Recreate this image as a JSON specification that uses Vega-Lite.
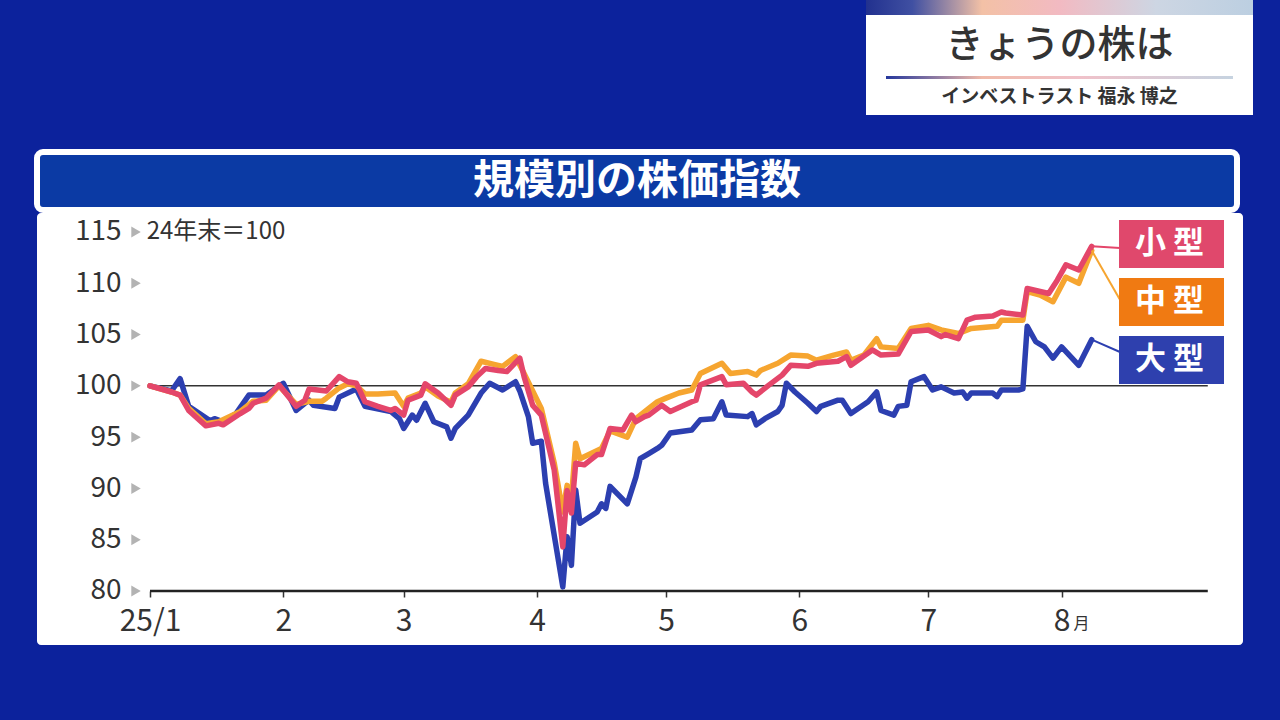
{
  "$schema": "https://vega.github.io/schema/vega-lite/v6.json",
  "background": "#0c229c",
  "padding": {"left": 34, "top": 0, "right": 30, "bottom": 75},
  "config": {"font": "Noto Sans CJK JP", "view": {"stroke": null}},
  "datasets": {
    "lines": [
      {"date":"2025-01-01","series":"小型","value":100.0},{"date":"2025-01-06","series":"小型","value":99.4},{"date":"2025-01-08","series":"小型","value":99.1},{"date":"2025-01-10","series":"小型","value":97.6},{"date":"2025-01-14","series":"小型","value":96.1},{"date":"2025-01-17","series":"小型","value":96.35},{"date":"2025-01-18","series":"小型","value":96.2},{"date":"2025-01-22","series":"小型","value":97.3},{"date":"2025-01-24","series":"小型","value":97.8},{"date":"2025-01-25","series":"小型","value":98.3},{"date":"2025-01-28","series":"小型","value":98.8},{"date":"2025-01-31","series":"小型","value":100.1},
      {"date":"2025-02-04","series":"小型","value":98.0},{"date":"2025-02-06","series":"小型","value":98.6},{"date":"2025-02-07","series":"小型","value":99.7},{"date":"2025-02-11","series":"小型","value":99.5},{"date":"2025-02-14","series":"小型","value":100.9},{"date":"2025-02-16","series":"小型","value":100.4},{"date":"2025-02-18","series":"小型","value":100.25},{"date":"2025-02-20","series":"小型","value":98.45},{"date":"2025-02-23","series":"小型","value":98.0},{"date":"2025-02-26","series":"小型","value":97.6},{"date":"2025-02-27","series":"小型","value":97.8},
      {"date":"2025-03-01","series":"小型","value":97.15},{"date":"2025-03-02","series":"小型","value":98.6},{"date":"2025-03-05","series":"小型","value":99.1},{"date":"2025-03-06","series":"小型","value":100.2},{"date":"2025-03-08","series":"小型","value":99.6},{"date":"2025-03-09","series":"小型","value":99.3},{"date":"2025-03-12","series":"小型","value":98.1},{"date":"2025-03-13","series":"小型","value":99.1},{"date":"2025-03-16","series":"小型","value":99.9},{"date":"2025-03-18","series":"小型","value":100.9},{"date":"2025-03-20","series":"小型","value":101.7},{"date":"2025-03-23","series":"小型","value":101.5},{"date":"2025-03-25","series":"小型","value":101.4},{"date":"2025-03-28","series":"小型","value":102.7},{"date":"2025-03-29","series":"小型","value":100.9},{"date":"2025-03-31","series":"小型","value":98.1},
      {"date":"2025-04-02","series":"小型","value":97.15},{"date":"2025-04-05","series":"小型","value":91.8},{"date":"2025-04-07","series":"小型","value":84.3},{"date":"2025-04-08","series":"小型","value":89.8},{"date":"2025-04-09","series":"小型","value":87.6},{"date":"2025-04-10","series":"小型","value":92.45},{"date":"2025-04-12","series":"小型","value":92.3},{"date":"2025-04-15","series":"小型","value":93.3},{"date":"2025-04-16","series":"小型","value":93.3},{"date":"2025-04-18","series":"小型","value":95.85},{"date":"2025-04-21","series":"小型","value":95.7},{"date":"2025-04-23","series":"小型","value":97.15},{"date":"2025-04-24","series":"小型","value":96.5},{"date":"2025-04-26","series":"小型","value":97.0},{"date":"2025-04-27","series":"小型","value":97.15},{"date":"2025-04-30","series":"小型","value":98.1},
      {"date":"2025-05-02","series":"小型","value":97.5},{"date":"2025-05-07","series":"小型","value":98.45},{"date":"2025-05-08","series":"小型","value":98.6},{"date":"2025-05-09","series":"小型","value":100.1},{"date":"2025-05-14","series":"小型","value":100.9},{"date":"2025-05-15","series":"小型","value":100.1},{"date":"2025-05-19","series":"小型","value":100.25},{"date":"2025-05-21","series":"小型","value":99.4},{"date":"2025-05-22","series":"小型","value":99.1},{"date":"2025-05-25","series":"小型","value":100.1},{"date":"2025-05-28","series":"小型","value":101.05},{"date":"2025-05-30","series":"小型","value":102.0},
      {"date":"2025-06-03","series":"小型","value":101.9},{"date":"2025-06-05","series":"小型","value":102.2},{"date":"2025-06-10","series":"小型","value":102.4},{"date":"2025-06-12","series":"小型","value":102.85},{"date":"2025-06-13","series":"小型","value":102.0},{"date":"2025-06-18","series":"小型","value":103.5},{"date":"2025-06-20","series":"小型","value":103.0},{"date":"2025-06-24","series":"小型","value":103.1},{"date":"2025-06-27","series":"小型","value":105.3},
      {"date":"2025-07-01","series":"小型","value":105.45},{"date":"2025-07-04","series":"小型","value":104.8},{"date":"2025-07-05","series":"小型","value":105.0},{"date":"2025-07-08","series":"小型","value":104.6},{"date":"2025-07-10","series":"小型","value":106.4},{"date":"2025-07-12","series":"小型","value":106.7},{"date":"2025-07-16","series":"小型","value":106.8},{"date":"2025-07-18","series":"小型","value":107.2},{"date":"2025-07-19","series":"小型","value":107.1},{"date":"2025-07-23","series":"小型","value":106.9},{"date":"2025-07-24","series":"小型","value":109.5},{"date":"2025-07-26","series":"小型","value":109.3},{"date":"2025-07-29","series":"小型","value":109.0},{"date":"2025-07-31","series":"小型","value":110.3},
      {"date":"2025-08-02","series":"小型","value":111.8},{"date":"2025-08-05","series":"小型","value":111.3},{"date":"2025-08-08","series":"小型","value":113.6},

      {"date":"2025-01-01","series":"中型","value":100.0},{"date":"2025-01-06","series":"中型","value":99.4},{"date":"2025-01-08","series":"中型","value":99.1},{"date":"2025-01-10","series":"中型","value":97.8},{"date":"2025-01-14","series":"中型","value":96.3},{"date":"2025-01-17","series":"中型","value":96.5},{"date":"2025-01-22","series":"中型","value":97.5},{"date":"2025-01-25","series":"中型","value":98.5},{"date":"2025-01-28","series":"中型","value":98.6},{"date":"2025-01-31","series":"中型","value":100.0},
      {"date":"2025-02-04","series":"中型","value":98.2},{"date":"2025-02-06","series":"中型","value":98.4},{"date":"2025-02-07","series":"中型","value":98.5},{"date":"2025-02-10","series":"中型","value":98.5},{"date":"2025-02-11","series":"中型","value":98.8},{"date":"2025-02-14","series":"中型","value":99.8},{"date":"2025-02-16","series":"中型","value":100.2},{"date":"2025-02-18","series":"中型","value":100.0},{"date":"2025-02-20","series":"中型","value":99.2},{"date":"2025-02-23","series":"中型","value":99.2},{"date":"2025-02-27","series":"中型","value":99.3},
      {"date":"2025-03-01","series":"中型","value":98.0},{"date":"2025-03-02","series":"中型","value":98.8},{"date":"2025-03-05","series":"中型","value":99.3},{"date":"2025-03-06","series":"中型","value":99.9},{"date":"2025-03-09","series":"中型","value":99.0},{"date":"2025-03-12","series":"中型","value":98.4},{"date":"2025-03-13","series":"中型","value":99.3},{"date":"2025-03-16","series":"中型","value":100.2},{"date":"2025-03-19","series":"中型","value":102.4},{"date":"2025-03-22","series":"中型","value":102.1},{"date":"2025-03-24","series":"中型","value":101.9},{"date":"2025-03-27","series":"中型","value":102.85},{"date":"2025-03-29","series":"中型","value":101.2},
      {"date":"2025-04-02","series":"中型","value":97.8},{"date":"2025-04-05","series":"中型","value":92.5},{"date":"2025-04-07","series":"中型","value":87.7},{"date":"2025-04-08","series":"中型","value":90.3},{"date":"2025-04-09","series":"中型","value":89.0},{"date":"2025-04-10","series":"中型","value":94.4},{"date":"2025-04-11","series":"中型","value":92.9},{"date":"2025-04-16","series":"中型","value":93.9},{"date":"2025-04-18","series":"中型","value":95.6},{"date":"2025-04-22","series":"中型","value":95.0},{"date":"2025-04-24","series":"中型","value":96.8},{"date":"2025-04-27","series":"中型","value":97.8},{"date":"2025-04-29","series":"中型","value":98.45},
      {"date":"2025-05-01","series":"中型","value":98.8},{"date":"2025-05-04","series":"中型","value":99.3},{"date":"2025-05-07","series":"中型","value":99.6},{"date":"2025-05-09","series":"中型","value":101.2},{"date":"2025-05-14","series":"中型","value":102.2},{"date":"2025-05-16","series":"中型","value":101.2},{"date":"2025-05-20","series":"中型","value":101.4},{"date":"2025-05-22","series":"中型","value":101.05},{"date":"2025-05-23","series":"中型","value":101.5},{"date":"2025-05-27","series":"中型","value":102.2},{"date":"2025-05-30","series":"中型","value":103.0},
      {"date":"2025-06-03","series":"中型","value":102.9},{"date":"2025-06-05","series":"中型","value":102.5},{"date":"2025-06-09","series":"中型","value":103.0},{"date":"2025-06-12","series":"中型","value":103.3},{"date":"2025-06-13","series":"中型","value":102.5},{"date":"2025-06-16","series":"中型","value":103.0},{"date":"2025-06-19","series":"中型","value":104.6},{"date":"2025-06-20","series":"中型","value":103.8},{"date":"2025-06-24","series":"中型","value":103.65},{"date":"2025-06-27","series":"中型","value":105.6},
      {"date":"2025-07-01","series":"中型","value":105.9},{"date":"2025-07-04","series":"中型","value":105.45},{"date":"2025-07-08","series":"中型","value":105.1},{"date":"2025-07-11","series":"中型","value":105.6},{"date":"2025-07-17","series":"中型","value":105.8},{"date":"2025-07-18","series":"中型","value":106.4},{"date":"2025-07-23","series":"中型","value":106.4},{"date":"2025-07-24","series":"中型","value":109.2},{"date":"2025-07-27","series":"中型","value":108.85},{"date":"2025-07-30","series":"中型","value":108.2},
      {"date":"2025-08-02","series":"中型","value":110.6},{"date":"2025-08-05","series":"中型","value":110.0},{"date":"2025-08-08","series":"中型","value":113.2},

      {"date":"2025-01-01","series":"大型","value":100.0},{"date":"2025-01-06","series":"大型","value":99.5},{"date":"2025-01-08","series":"大型","value":100.7},{"date":"2025-01-10","series":"大型","value":98.0},{"date":"2025-01-15","series":"大型","value":96.6},{"date":"2025-01-16","series":"大型","value":96.8},{"date":"2025-01-18","series":"大型","value":96.5},{"date":"2025-01-21","series":"大型","value":97.3},{"date":"2025-01-24","series":"大型","value":99.1},{"date":"2025-01-28","series":"大型","value":99.1},
      {"date":"2025-02-01","series":"大型","value":100.25},{"date":"2025-02-04","series":"大型","value":97.6},{"date":"2025-02-06","series":"大型","value":98.3},{"date":"2025-02-07","series":"大型","value":98.6},{"date":"2025-02-08","series":"大型","value":98.1},{"date":"2025-02-13","series":"大型","value":97.8},{"date":"2025-02-14","series":"大型","value":98.9},{"date":"2025-02-18","series":"大型","value":99.7},{"date":"2025-02-20","series":"大型","value":98.0},{"date":"2025-02-26","series":"大型","value":97.5},{"date":"2025-02-28","series":"大型","value":96.8},
      {"date":"2025-03-01","series":"大型","value":95.85},{"date":"2025-03-03","series":"大型","value":97.15},{"date":"2025-03-04","series":"大型","value":96.65},{"date":"2025-03-06","series":"大型","value":98.3},{"date":"2025-03-08","series":"大型","value":96.5},{"date":"2025-03-11","series":"大型","value":96.0},{"date":"2025-03-12","series":"大型","value":94.9},{"date":"2025-03-13","series":"大型","value":95.85},{"date":"2025-03-16","series":"大型","value":97.15},{"date":"2025-03-19","series":"大型","value":99.3},{"date":"2025-03-21","series":"大型","value":100.25},{"date":"2025-03-24","series":"大型","value":99.6},{"date":"2025-03-27","series":"大型","value":100.4},{"date":"2025-03-28","series":"大型","value":99.5},{"date":"2025-03-30","series":"大型","value":97.0},{"date":"2025-03-31","series":"大型","value":94.4},
      {"date":"2025-04-02","series":"大型","value":94.6},{"date":"2025-04-03","series":"大型","value":90.5},{"date":"2025-04-07","series":"大型","value":80.4},{"date":"2025-04-08","series":"大型","value":85.3},{"date":"2025-04-09","series":"大型","value":82.5},{"date":"2025-04-10","series":"大型","value":89.85},{"date":"2025-04-11","series":"大型","value":86.6},{"date":"2025-04-15","series":"大型","value":87.7},{"date":"2025-04-16","series":"大型","value":88.5},{"date":"2025-04-17","series":"大型","value":88.05},{"date":"2025-04-18","series":"大型","value":90.2},{"date":"2025-04-22","series":"大型","value":88.5},{"date":"2025-04-24","series":"大型","value":91.1},{"date":"2025-04-25","series":"大型","value":92.9},{"date":"2025-04-27","series":"大型","value":93.4},{"date":"2025-04-29","series":"大型","value":93.9},{"date":"2025-04-30","series":"大型","value":94.2},
      {"date":"2025-05-02","series":"大型","value":95.4},{"date":"2025-05-07","series":"大型","value":95.7},{"date":"2025-05-09","series":"大型","value":96.7},{"date":"2025-05-12","series":"大型","value":96.8},{"date":"2025-05-14","series":"大型","value":98.45},{"date":"2025-05-15","series":"大型","value":97.15},{"date":"2025-05-20","series":"大型","value":97.0},{"date":"2025-05-21","series":"大型","value":97.3},{"date":"2025-05-22","series":"大型","value":96.2},{"date":"2025-05-24","series":"大型","value":96.8},{"date":"2025-05-27","series":"大型","value":97.5},{"date":"2025-05-28","series":"大型","value":98.1},{"date":"2025-05-29","series":"大型","value":100.25},{"date":"2025-05-31","series":"大型","value":99.4},
      {"date":"2025-06-03","series":"大型","value":98.3},{"date":"2025-06-05","series":"大型","value":97.5},{"date":"2025-06-06","series":"大型","value":98.0},{"date":"2025-06-10","series":"大型","value":98.6},{"date":"2025-06-11","series":"大型","value":98.6},{"date":"2025-06-13","series":"大型","value":97.3},{"date":"2025-06-17","series":"大型","value":98.45},{"date":"2025-06-19","series":"大型","value":99.4},{"date":"2025-06-20","series":"大型","value":97.6},{"date":"2025-06-23","series":"大型","value":97.15},{"date":"2025-06-24","series":"大型","value":98.0},{"date":"2025-06-26","series":"大型","value":98.1},{"date":"2025-06-27","series":"大型","value":100.4},{"date":"2025-06-30","series":"大型","value":100.9},
      {"date":"2025-07-02","series":"大型","value":99.6},{"date":"2025-07-04","series":"大型","value":99.9},{"date":"2025-07-07","series":"大型","value":99.3},{"date":"2025-07-09","series":"大型","value":99.4},{"date":"2025-07-10","series":"大型","value":98.8},{"date":"2025-07-11","series":"大型","value":99.3},{"date":"2025-07-16","series":"大型","value":99.3},{"date":"2025-07-17","series":"大型","value":98.95},{"date":"2025-07-18","series":"大型","value":99.6},{"date":"2025-07-22","series":"大型","value":99.6},{"date":"2025-07-23","series":"大型","value":99.7},{"date":"2025-07-24","series":"大型","value":105.8},{"date":"2025-07-26","series":"大型","value":104.3},{"date":"2025-07-28","series":"大型","value":103.8},{"date":"2025-07-30","series":"大型","value":102.7},
      {"date":"2025-08-01","series":"大型","value":103.8},{"date":"2025-08-05","series":"大型","value":102.0},{"date":"2025-08-08","series":"大型","value":104.5}
    ],
    "yticks": [{"v":80},{"v":85},{"v":90},{"v":95},{"v":100},{"v":105},{"v":110},{"v":115}]
  },
  "spacing": 34,
  "vconcat": [
    {
      "spacing": 0,
      "hconcat": [
        {"width": 829, "height": 115, "data": {"values": []}, "mark": "point", "view": {"fill": "#0c229c", "stroke": null}},
        {
          "spacing": 0,
          "vconcat": [
            {"width": 387, "height": 15, "data": {"values": []}, "mark": "point",
             "view": {"stroke": null, "fill": {"gradient": "linear", "x1": 0, "y1": 0, "x2": 1, "y2": 0, "stops": [
               {"offset": 0, "color": "#22318f"}, {"offset": 0.12, "color": "#4050a2"}, {"offset": 0.3, "color": "#f3c1a6"}, {"offset": 0.5, "color": "#f2bac2"}, {"offset": 0.75, "color": "#cdd6e3"}, {"offset": 1, "color": "#bccfe1"}]}}},
            {"width": 387, "height": 61, "data": {"values": []}, "mark": "point", "view": {"fill": "white", "stroke": null},
             "title": {"text": "きょうの株は", "anchor": "middle", "orient": "top", "offset": -50, "fontSize": 38, "fontWeight": 500, "color": "#333333"}},
            {"width": 387, "height": 3, "data": {"values": []}, "mark": "point",
             "view": {"stroke": null, "fill": {"gradient": "linear", "x1": 0, "y1": 0, "x2": 1, "y2": 0, "stops": [
               {"offset": 0, "color": "#ffffff"}, {"offset": 0.051, "color": "#ffffff"}, {"offset": 0.052, "color": "#26389c"}, {"offset": 0.3, "color": "#f0b9a9"}, {"offset": 0.55, "color": "#f0c1c9"}, {"offset": 0.947, "color": "#c6d3e0"}, {"offset": 0.948, "color": "#ffffff"}, {"offset": 1, "color": "#ffffff"}]}}},
            {"width": 387, "height": 36, "data": {"values": []}, "mark": "point", "view": {"fill": "white", "stroke": null},
             "title": {"text": "インベストラスト 福永 博之", "anchor": "middle", "orient": "top", "offset": -28, "fontSize": 19, "fontWeight": "bold", "color": "#333333"}}
          ]
        }
      ]
    },
    {
      "spacing": 0,
      "vconcat": [
        {"width": 1200, "height": 58, "data": {"values": []}, "mark": "point",
         "view": {"fill": "#0b3aa4", "stroke": "white", "strokeWidth": 6, "cornerRadius": 6},
         "title": {"text": "規模別の株価指数", "anchor": "middle", "orient": "top", "offset": -51, "fontSize": 41, "fontWeight": "bold", "color": "white"}},
        {
          "width": 1206, "height": 432,
          "view": {"fill": "white", "stroke": null, "cornerRadius": 4},
          "layer": [
            {"data": {"values": [{}]}, "mark": {"type": "rule", "color": "#333333", "strokeWidth": 1.5},
             "encoding": {
               "x": {"datum": {"year": 2025, "month": 1, "date": 1, "utc": true}, "type": "temporal", "axis": {"title": null}},
               "x2": {"datum": {"year": 2025, "month": 9, "date": 4, "utc": true}},
               "y": {"datum": 100, "type": "quantitative", "axis": {"title": null}}}},
            {"data": {"values": [{}]}, "mark": {"type": "rule", "color": "#222222", "strokeWidth": 2.5},
             "encoding": {
               "x": {"datum": {"year": 2025, "month": 1, "date": 1, "utc": true}, "type": "temporal", "axis": {"title": null}},
               "x2": {"datum": {"year": 2025, "month": 9, "date": 4, "utc": true}},
               "y": {"datum": 80, "type": "quantitative", "axis": {"title": null}}}},
            {"data": {"name": "lines"}, "transform": [{"filter": "datum.series === '大型'"}],
             "mark": {"type": "line", "strokeWidth": 5.5, "strokeJoin": "round", "strokeCap": "round"},
             "encoding": {
               "x": {"field": "date", "type": "temporal",
                     "scale": {"type": "utc", "domain": [{"year": 2024, "month": 12, "date": 5, "hours": 17, "minutes": 17, "utc": true}, {"year": 2025, "month": 9, "date": 12, "hours": 4, "minutes": 34, "utc": true}]},
                     "axis": {"orient": "bottom", "offset": -54, "title": null, "grid": false, "domain": false,
                              "values": [{"year":2025,"month":1,"date":1,"utc":true},{"year":2025,"month":2,"date":1,"utc":true},{"year":2025,"month":3,"date":1,"utc":true},{"year":2025,"month":4,"date":1,"utc":true},{"year":2025,"month":5,"date":1,"utc":true},{"year":2025,"month":6,"date":1,"utc":true},{"year":2025,"month":7,"date":1,"utc":true},{"year":2025,"month":8,"date":1,"utc":true}],
                              "labelExpr": "utcmonth(datum.value) == 0 ? '25/1' : '' + (utcmonth(datum.value) + 1)",
                              "ticks": true, "tickSize": 6, "tickColor": "#333333", "tickWidth": 1.5,
                              "labelPadding": 9, "labelFontSize": 30, "labelColor": "#333333", "labelFlush": false, "labelOverlap": false}},
               "y": {"field": "value", "type": "quantitative",
                     "scale": {"domain": [74.735, 116.852], "nice": false, "zero": false},
                     "axis": {"orient": "left", "offset": -84, "title": null, "grid": false, "domain": false, "ticks": false,
                              "values": [80, 85, 90, 95, 100, 105, 110, 115], "labelPadding": 0, "labelFontSize": 28, "labelColor": "#333333"}},
               "color": {"field": "series", "type": "nominal",
                         "scale": {"domain": ["小型", "中型", "大型"], "range": ["#e4466a", "#f6a530", "#2c3fb0"]},
                         "legend": {"orient": "none", "legendX": 1082, "legendY": 220, "title": null, "padding": 0,
                                    "symbolType": "M-1,-1H1V-0.0857H-1Z",
                                    "symbolSize": 11025, "symbolStrokeWidth": 0, "rowPadding": 9,
                                    "labelOffset": -89, "labelFontSize": 31, "labelFontWeight": "bold", "labelColor": "white",
                                    "labelExpr": "substring(datum.label, 0, 1) + ' ' + substring(datum.label, 1)",
                                    "encode": {
                                      "symbols": {"update": {
                                        "fill": {"signal": "datum.value === '小型' ? '#e0486c' : datum.value === '中型' ? '#f07a12' : '#2e40ae'"},
                                        "fillOpacity": {"value": 1}, "opacity": {"value": 1}, "strokeWidth": {"value": 0}}},
                                      "labels": {"update": {"dy": {"value": -28.5}}}}}}}},
            {"data": {"name": "lines"}, "transform": [{"filter": "datum.series === '中型'"}],
             "mark": {"type": "line", "strokeWidth": 5.5, "strokeJoin": "round", "strokeCap": "round"},
             "encoding": {
               "x": {"field": "date", "type": "temporal"},
               "y": {"field": "value", "type": "quantitative"},
               "color": {"field": "series", "type": "nominal"}}},
            {"data": {"name": "lines"}, "transform": [{"filter": "datum.series === '小型'"}],
             "mark": {"type": "line", "strokeWidth": 5.5, "strokeJoin": "round", "strokeCap": "round"},
             "encoding": {
               "x": {"field": "date", "type": "temporal"},
               "y": {"field": "value", "type": "quantitative"},
               "color": {"field": "series", "type": "nominal"}}},
            {"data": {"values": [{}]}, "mark": {"type": "rule", "color": "#e4466a", "strokeWidth": 2},
             "encoding": {
               "x": {"datum": {"year": 2025, "month": 8, "date": 8, "utc": true}, "type": "temporal", "axis": {"title": null}},
               "x2": {"datum": {"year": 2025, "month": 8, "date": 14, "hours": 14, "utc": true}},
               "y": {"datum": 113.6, "type": "quantitative", "axis": {"title": null}},
               "y2": {"datum": 113.44}}},
            {"data": {"values": [{}]}, "mark": {"type": "rule", "color": "#f6a530", "strokeWidth": 2},
             "encoding": {
               "x": {"datum": {"year": 2025, "month": 8, "date": 8, "utc": true}, "type": "temporal", "axis": {"title": null}},
               "x2": {"datum": {"year": 2025, "month": 8, "date": 14, "hours": 14, "utc": true}},
               "y": {"datum": 113.2, "type": "quantitative", "axis": {"title": null}},
               "y2": {"datum": 108.4}}},
            {"data": {"values": [{}]}, "mark": {"type": "rule", "color": "#2c3fb0", "strokeWidth": 2},
             "encoding": {
               "x": {"datum": {"year": 2025, "month": 8, "date": 8, "utc": true}, "type": "temporal", "axis": {"title": null}},
               "x2": {"datum": {"year": 2025, "month": 8, "date": 14, "hours": 14, "utc": true}},
               "y": {"datum": 104.5, "type": "quantitative", "axis": {"title": null}},
               "y2": {"datum": 103.3}}},
            {"data": {"name": "yticks"},
             "mark": {"type": "point", "shape": "triangle-right", "filled": true, "size": 120, "color": "#b3b3b3", "opacity": 1},
             "encoding": {
               "x": {"datum": {"year": 2024, "month": 12, "date": 28, "hours": 18, "utc": true}, "type": "temporal", "axis": {"title": null}},
               "y": {"field": "v", "type": "quantitative", "axis": {"title": null}}}},
            {"data": {"values": [{}]},
             "mark": {"type": "text", "text": "24年末＝100", "align": "left", "baseline": "middle", "fontSize": 24, "color": "#333333", "dx": 1},
             "encoding": {
               "x": {"datum": {"year": 2024, "month": 12, "date": 31, "utc": true}, "type": "temporal", "axis": {"title": null}},
               "y": {"datum": 115, "type": "quantitative", "axis": {"title": null}}}},
            {"data": {"values": [{}]},
             "mark": {"type": "text", "text": "月", "align": "left", "baseline": "middle", "fontSize": 16, "color": "#333333", "dx": 12, "dy": 33},
             "encoding": {
               "x": {"datum": {"year": 2025, "month": 8, "date": 1, "utc": true}, "type": "temporal", "axis": {"title": null}},
               "y": {"datum": 80, "type": "quantitative", "axis": {"title": null}}}}
          ]
        }
      ]
    }
  ]
}
